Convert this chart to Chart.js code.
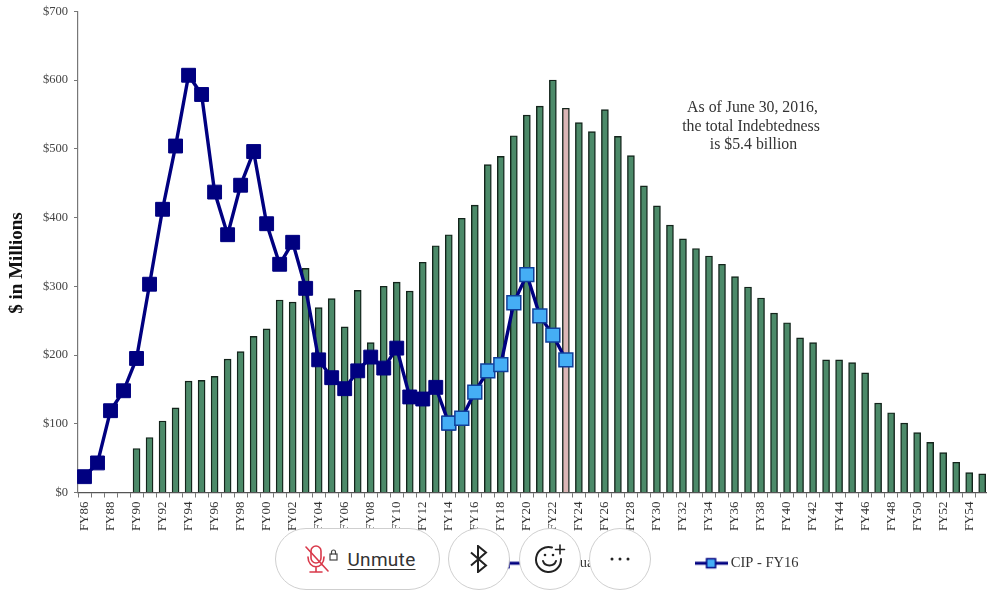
<!DOCTYPE html>
<html>
<head>
<meta charset="utf-8">
<script src="https://cdn.jsdelivr.net/npm/chart.js@4"></script>
<style>
html,body{margin:0;padding:0;background:#fff;overflow:hidden;width:987px;height:592px}
#wrap{position:relative;width:987px;height:592px;overflow:hidden}
canvas#c{position:absolute;left:0;top:0;filter:blur(0.4px)}
.btn{position:absolute;top:528px;height:62px;box-sizing:border-box;background:#fff;border:1.5px solid #cfcfcf;border-radius:31px;display:flex;align-items:center;justify-content:center}
#unmute{left:275px;width:165px;padding-left:6px}
#bt{left:448px;width:62px}
#emo{left:519px;width:62px}
#more{left:589px;width:62px}
#unmute span{font:19px Roboto,sans-serif;color:#333;text-decoration:underline;text-underline-offset:3px;letter-spacing:.3px;margin-left:8px}
</style>
</head>
<body>
<div id="wrap">
<canvas id="c" width="1000" height="592"></canvas>
<div class="btn" id="unmute">
<svg width="34" height="30" viewBox="0 0 34 30" fill="none" stroke-linecap="round">
<g stroke="#d9394a" stroke-width="1.6"><rect x="6" y="2" width="10" height="17" rx="5"/><path d="M3 13c0 13 16 13 16 0M11 23v5M5 28h12M1 3l22 24"/></g>
<g stroke="#444" stroke-width="1.2"><rect x="25" y="10" width="7" height="6"/><path d="M26.500 10v-2a2 2 0 0 1 4 0v2"/></g>
</svg>
<span>Unmute</span>
</div>
<div class="btn" id="bt"><svg width="22" height="28" viewBox="0 0 22 28" fill="none" stroke="#222" stroke-width="2"><path d="M3 7.500l15 13L10 27V1l8 6.500L3 20.500"/></svg></div>
<div class="btn" id="emo"><svg width="32" height="30" viewBox="0 0 32 30" fill="none" stroke="#222" stroke-width="2" stroke-linecap="round"><path d="M18 3.500A12.500 12.500 0 1 0 27 15"/><path d="M9 17c2 6 11 6 13 0"/><circle cx="11" cy="11" r="1.300" fill="#222" stroke="none"/><circle cx="19" cy="11" r="1.300" fill="#222" stroke="none"/><path d="M26 1v9M21.500 5.500h9" stroke-width="1.600"/></svg></div>
<div class="btn" id="more"><svg width="22" height="6" viewBox="0 0 22 6" fill="#222"><circle cx="3" cy="3" r="1.500"/><circle cx="11" cy="3" r="1.500"/><circle cx="19" cy="3" r="1.500"/></svg></div>
</div>
<script>
const categories = ["FY86","FY87","FY88","FY89","FY90","FY91","FY92","FY93","FY94","FY95","FY96","FY97","FY98","FY99","FY00","FY01","FY02","FY03","FY04","FY05","FY06","FY07","FY08","FY09","FY10","FY11","FY12","FY13","FY14","FY15","FY16","FY17","FY18","FY19","FY20","FY21","FY22","FY23","FY24","FY25","FY26","FY27","FY28","FY29","FY30","FY31","FY32","FY33","FY34","FY35","FY36","FY37","FY38","FY39","FY40","FY41","FY42","FY43","FY44","FY45","FY46","FY47","FY48","FY49","FY50","FY51","FY52","FY53","FY54","FY55"];
const debtService = [null,null,null,null,64,80,104,123,162,163,169,194,205,227,238,280,277,326,269,282,241,294,218,300,306,293,335,359,375,399,418,477,489,519,549,562,600,559,538,525,557,518,490,446,417,389,369,355,344,332,314,299,283,261,247,225,218,193,193,189,174,130,116,101,87,73,58,44,29,27];
const cipActual = [23,43,119,148,195,303,412,504,607,579,437,375,447,496,391,332,364,297,193,167,151,177,197,181,210,139,136,153,101];
const cipFY16 = [null,null,null,null,null,null,null,null,null,null,null,null,null,null,null,null,null,null,null,null,null,null,null,null,null,null,null,null,101,108,146,177,186,276,317,257,229,193];
const yTicks = [0,100,200,300,400,500,600,700];
const noteLines = [["As of June 30, 2016,",752.5,108],["the total Indebtedness",751,126.5],["is $5.4 billion",753.5,144.5]];
const yTitle = "$ in Millions";
const highlightYear = "FY23";

const navy="#000080", green="#4c8a69", pink="#dcb6b6", edge="#13241b", light="#45aef5";

function symbol(fill){
  const s=document.createElement('canvas');s.width=33;s.height=14;
  const g=s.getContext('2d');
  g.strokeStyle=navy;g.lineWidth=3;g.beginPath();g.moveTo(0,7);g.lineTo(33,7);g.stroke();
  g.fillStyle=fill;g.fillRect(12,2.5,9,9);g.lineWidth=1.5;g.strokeRect(12,2.5,9,9);
  return s;
}
const legendLeft=492, legendGap=101, legendCenterY=563;

const placeExtras={
  id:'placeExtras',
  afterLayout(chart){
    const l=chart.legend;
    l.left=legendLeft-legendGap; l.right=1400;
    l.top=legendCenterY-7-legendGap; l.bottom=592;
  },
  afterDraw(chart){
    const c=chart.ctx;
    c.save();
    c.fillStyle="#333";c.textAlign="center";c.textBaseline="middle";
    c.font="15.8px 'Liberation Serif'";
    noteLines.forEach(n=>c.fillText(n[0],n[1],n[2]));
    c.translate(17,263);c.rotate(-Math.PI/2);
    c.fillStyle="#111";c.font="bold 19px 'Liberation Serif'";
    c.fillText(yTitle,0,0);
    c.restore();
  }
};

new Chart(document.getElementById('c'),{
  data:{
    labels:categories,
    datasets:[
      {type:'line',label:'CIP - FY16',data:cipFY16,order:1,borderColor:navy,backgroundColor:light,borderWidth:3.4,pointStyle:'rect',pointRadius:9.8,pointBorderWidth:1.5,pointBorderColor:"#10409a",pointBackgroundColor:light,tension:0,spanGaps:false},
      {type:'line',label:'CIP - Actual',data:cipActual,order:2,borderColor:navy,backgroundColor:navy,borderWidth:3.4,pointStyle:'rect',pointRadius:9.8,pointBorderWidth:1,pointBorderColor:navy,pointBackgroundColor:navy,tension:0},
      {type:'bar',label:'Debt Service',data:debtService,order:3,barThickness:7,borderWidth:1.4,borderColor:edge,
        backgroundColor:categories.map(c=>c===highlightYear?pink:green)}
    ]
  },
  options:{
    responsive:false,animation:false,
    layout:{padding:{left:0,right:8.5,top:10.5,bottom:0}},
    plugins:{
      tooltip:{enabled:false},
      legend:{
        display:true,position:'bottom',align:'start',maxHeight:30,
        labels:{
          padding:legendGap,usePointStyle:true,pointStyleWidth:25,color:"#333",
          font:{family:"'Liberation Serif'",size:14.5},
          generateLabels(){
            return [
              {text:'CIP - Actual',pointStyle:symbol(navy),fontColor:"#333",hidden:false,lineWidth:0},
              {text:'CIP - FY16',pointStyle:symbol(light),fontColor:"#333",hidden:false,lineWidth:0}
            ];
          }
        }
      }
    },
    scales:{
      x:{
        type:'category',offset:true,
        afterFit(s){s.height=69.5;s.paddingLeft=0;s.paddingRight=0;},
        grid:{offset:true,drawOnChartArea:false,drawTicks:true,tickLength:5,color:"#777"},
        border:{color:"#555",width:1.2},
        ticks:{autoSkip:false,minRotation:90,maxRotation:90,padding:4,color:"#333",
          font:{family:"'Liberation Serif'",size:13},
          callback(v,i){return i%2===0?categories[i]:'';}}
      },
      y:{
        type:'linear',min:0,max:700,
        afterFit(s){s.width=78;s.paddingTop=0;s.paddingBottom=0;},
        afterBuildTicks(s){s.ticks=yTicks.map(v=>({value:v}));},
        grid:{drawOnChartArea:false,drawTicks:true,tickLength:4,color:"#777"},
        border:{color:"#777",width:1.2},
        ticks:{padding:6,color:"#444",font:{family:"'Liberation Serif'",size:12.5},callback:v=>'$'+v}
      }
    }
  },
  plugins:[placeExtras]
});
</script>
</body>
</html>
